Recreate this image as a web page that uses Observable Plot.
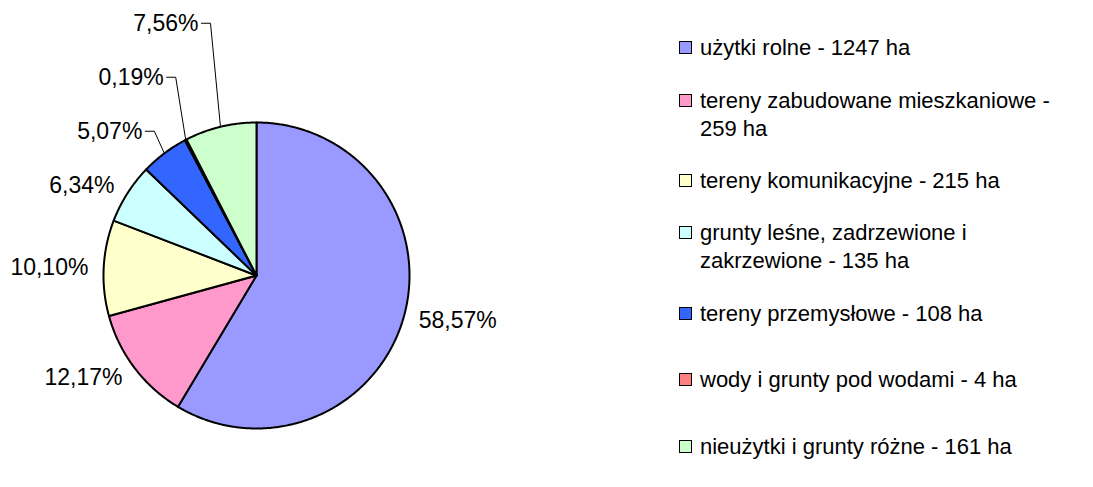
<!DOCTYPE html>
<html>
<head>
<meta charset="utf-8">
<script src="https://cdn.jsdelivr.net/npm/d3@7"></script>
<script src="https://cdn.jsdelivr.net/npm/@observablehq/plot@0.6"></script>
<style>
  html, body { margin: 0; padding: 0; background: #fff; }
  #wrap { position: relative; width: 1093px; height: 487px; overflow: hidden; font-family: "Liberation Sans", Arial, sans-serif; }
  #chart { position: absolute; left: 0; top: 0; }
  #legend { position: absolute; left: 679px; top: 15px; height: 465px; display: flex; flex-direction: column; }
  .item { flex: 1; display: flex; align-items: center; }
  .row { display: flex; align-items: flex-start; }
  .sw { width: 11px; height: 11px; border: 1.5px solid #000; margin-top: 7px; margin-right: 8px; flex: none; }
  .txt { font-size: 22px; line-height: 28px; white-space: pre; color: #000; }
</style>
</head>
<body>
<div id="wrap"><div id="chart"></div><div id="legend"></div></div>
<script>
// ---- data ----
const categories = [
  "użytki rolne",
  "tereny zabudowane mieszkaniowe",
  "tereny komunikacyjne",
  "grunty leśne, zadrzewione i zakrzewione",
  "tereny przemysłowe",
  "wody i grunty pod wodami",
  "nieużytki i grunty różne"
];
const hectares = [1247, 259, 215, 135, 108, 4, 161];
const colors = ["#9999FF", "#FF99CC", "#FFFFCC", "#CCFFFF", "#3366FF", "#FF8080", "#CCFFCC"];
const legendLabels = [
  "użytki rolne - 1247 ha",
  "tereny zabudowane mieszkaniowe -\n259 ha",
  "tereny komunikacyjne - 215 ha",
  "grunty leśne, zadrzewione i\nzakrzewione - 135 ha",
  "tereny przemysłowe - 108 ha",
  "wody i grunty pod wodami - 4 ha",
  "nieużytki i grunty różne - 161 ha"
];

// ---- layout ----
const W = 1093, H = 487, cx = 256, cy = 275, R = 153;
const labelFont = 23;
const total = d3.sum(hectares);

let acc = 0;
const slices = categories.map((name, i) => {
  const a0 = acc / total * 2 * Math.PI;
  acc += hectares[i];
  const a1 = acc / total * 2 * Math.PI;
  return {name, a0, a1, mid: (a0 + a1) / 2, pct: hectares[i] / total * 100};
});

const piePoints = [];
for (const s of slices) {
  piePoints.push({name: s.name, x: 0, y: 0});
  const n = Math.max(2, Math.ceil((s.a1 - s.a0) / (Math.PI / 360)));
  for (let k = 0; k <= n; k++) {
    const a = s.a0 + (s.a1 - s.a0) * k / n;
    piePoints.push({name: s.name, x: Math.sin(a), y: Math.cos(a)});
  }
}

const fmt = v => v.toFixed(2).replace(".", ",") + "%";
const labels = slices.map(s => {
  const ex = Math.sin(s.mid), ey = Math.cos(s.mid);
  return {name: s.name, ex, ey, x: 1.1 * ex, y: 1.1 * ey, side: ex >= 0 ? "right" : "left", label: fmt(s.pct), pushed: false};
});
const gap = 54 / R;
const leaderPoints = [];
for (const side of ["left", "right"]) {
  const group = labels.filter(l => l.side === side).sort((a, b) => a.y - b.y);
  let prev = -Infinity;
  for (const l of group) {
    if (l.y < prev + gap) { l.y = prev + gap; l.pushed = true; }
    prev = l.y;
    if (l.pushed) {
      const s = side === "left" ? -1 : 1;
      l.x = l.ex + s * 22 / R;
      leaderPoints.push({name: l.name, x: l.x - s * 3 / R, y: l.y});
      leaderPoints.push({name: l.name, x: l.ex + s * 10 / R, y: l.y});
      leaderPoints.push({name: l.name, x: l.ex, y: l.ey});
    }
  }
}

const chart = Plot.plot({
  width: W,
  height: H,
  margin: 0,
  x: {domain: [-1, 1], range: [cx - R, cx + R]},
  y: {domain: [-1, 1], range: [cy + R, cy - R]},
  axis: null,
  color: {domain: categories, range: colors},
  style: {fontFamily: "Liberation Sans, Arial, sans-serif", background: "white"},
  marks: [
    Plot.line(piePoints, {x: "x", y: "y", z: "name", fill: "name", stroke: "black", strokeWidth: 2, curve: "linear-closed", strokeLinejoin: "round"}),
    Plot.line(leaderPoints, {x: "x", y: "y", z: "name", stroke: "black", strokeWidth: 1}),
    Plot.text(labels.filter(l => l.side === "left"), {x: "x", y: "y", text: "label", textAnchor: "end", fontSize: labelFont, fill: "black"}),
    Plot.text(labels.filter(l => l.side === "right"), {x: "x", y: "y", text: "label", textAnchor: "start", fontSize: labelFont, fill: "black"})
  ]
});
document.getElementById("chart").appendChild(chart);

const legend = d3.select("#legend");
const items = legend.selectAll(".item").data(categories).join("div").attr("class", "item");
const rows = items.append("div").attr("class", "row");
rows.append("div").attr("class", "sw").style("background", (d, i) => colors[i]);
rows.append("div").attr("class", "txt").text((d, i) => legendLabels[i]);
</script>
</body>
</html>
